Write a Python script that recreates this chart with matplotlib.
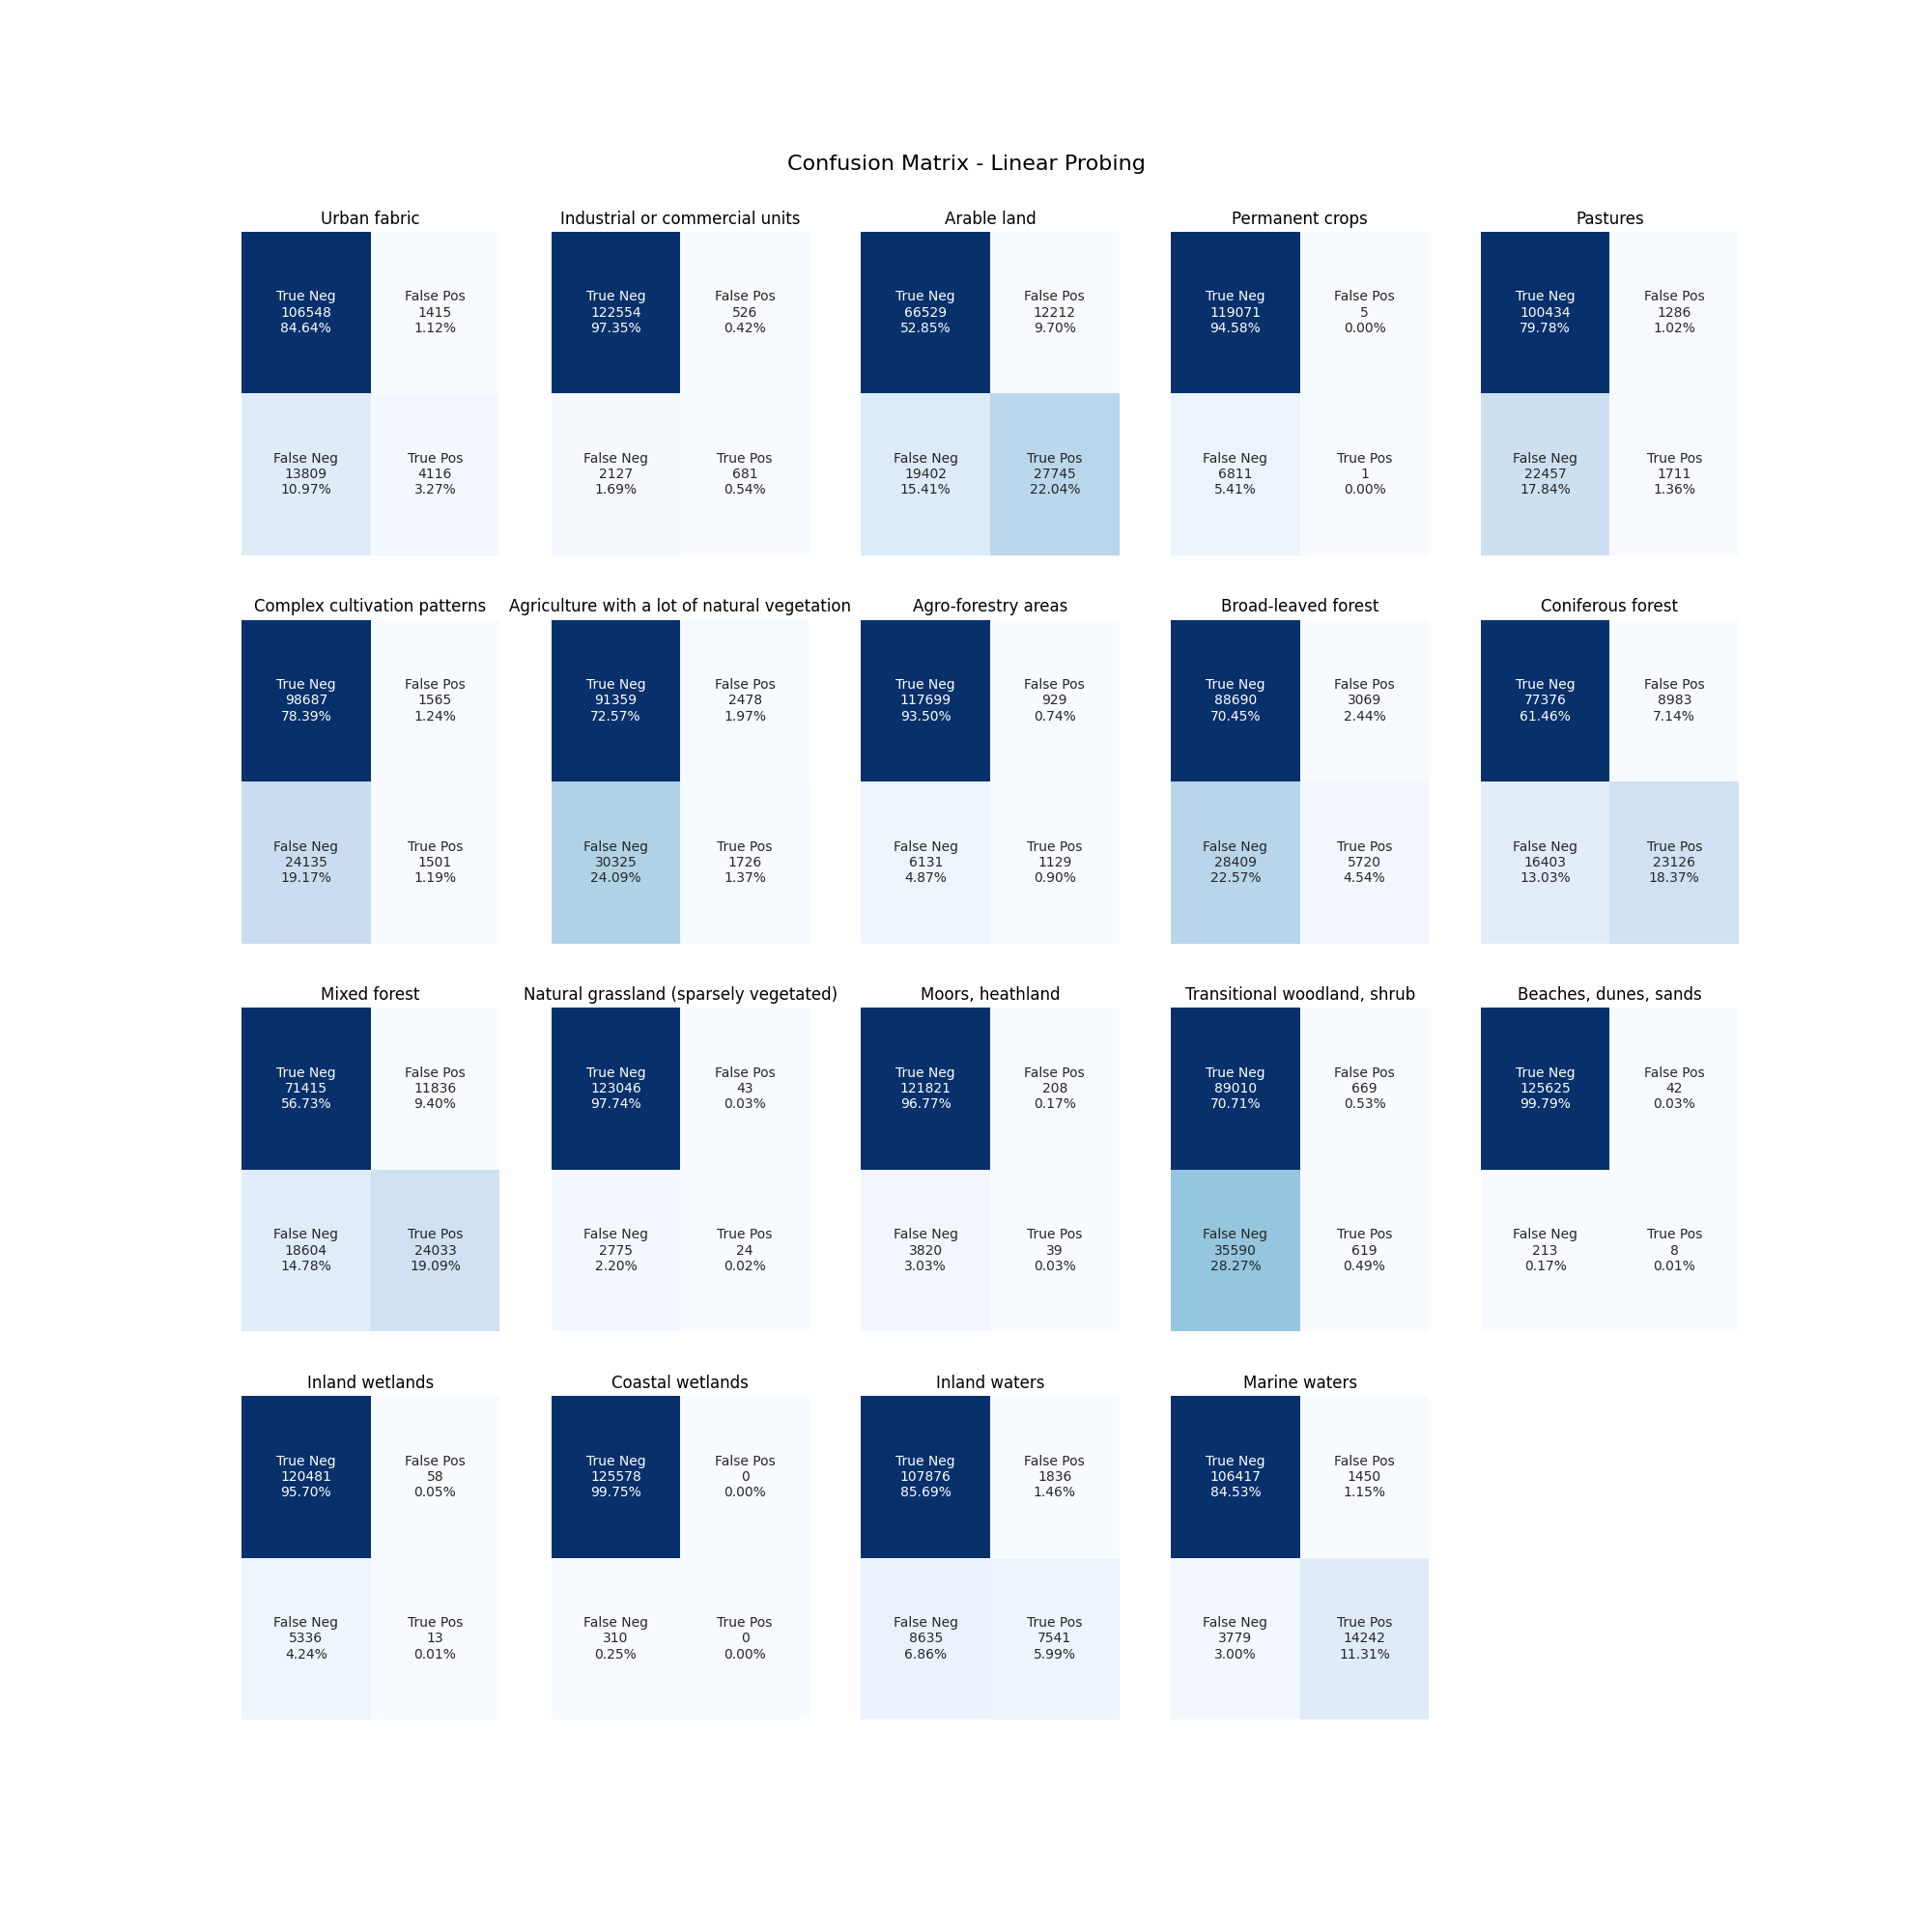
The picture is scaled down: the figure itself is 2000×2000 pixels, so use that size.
import numpy as np
import matplotlib
matplotlib.use("Agg")
import matplotlib.pyplot as plt
import seaborn as sns

classes = [
    "Urban fabric", "Industrial or commercial units", "Arable land",
    "Permanent crops", "Pastures", "Complex cultivation patterns",
    "Agriculture with a lot of natural vegetation", "Agro-forestry areas",
    "Broad-leaved forest", "Coniferous forest", "Mixed forest",
    "Natural grassland (sparsely vegetated)", "Moors, heathland",
    "Transitional woodland, shrub", "Beaches, dunes, sands",
    "Inland wetlands", "Coastal wetlands", "Inland waters", "Marine waters",
]

# counts per class: TN, FP, FN, TP
true_neg = [106548, 122554, 66529, 119071, 100434, 98687, 91359, 117699, 88690, 77376,
            71415, 123046, 121821, 89010, 125625, 120481, 125578, 107876, 106417]
false_pos = [1415, 526, 12212, 5, 1286, 1565, 2478, 929, 3069, 8983,
             11836, 43, 208, 669, 42, 58, 0, 1836, 1450]
false_neg = [13809, 2127, 19402, 6811, 22457, 24135, 30325, 6131, 28409, 16403,
             18604, 2775, 3820, 35590, 213, 5336, 310, 8635, 3779]
true_pos = [4116, 681, 27745, 1, 1711, 1501, 1726, 1129, 5720, 23126,
            24033, 24, 39, 619, 8, 13, 0, 7541, 14242]

group_names = ["True Neg", "False Pos", "False Neg", "True Pos"]

fig, axes = plt.subplots(4, 5, figsize=(20, 20))
axes = axes.flatten()

for i, name in enumerate(classes):
    cm = np.array([[true_neg[i], false_pos[i]], [false_neg[i], true_pos[i]]])
    counts = cm.flatten()
    pcts = counts / counts.sum()
    labels = [f"{g}\n{c}\n{p:.2%}" for g, c, p in zip(group_names, counts, pcts)]
    labels = np.asarray(labels).reshape(2, 2)
    sns.heatmap(cm, annot=labels, fmt="", cmap="Blues", cbar=False,
                xticklabels=False, yticklabels=False, ax=axes[i])
    axes[i].set_title(name, fontsize=12)

for j in range(len(classes), len(axes)):
    axes[j].axis("off")

fig.suptitle("Confusion Matrix - Linear Probing", fontsize=16, y=0.92)
plt.savefig("out.png", dpi=100)
